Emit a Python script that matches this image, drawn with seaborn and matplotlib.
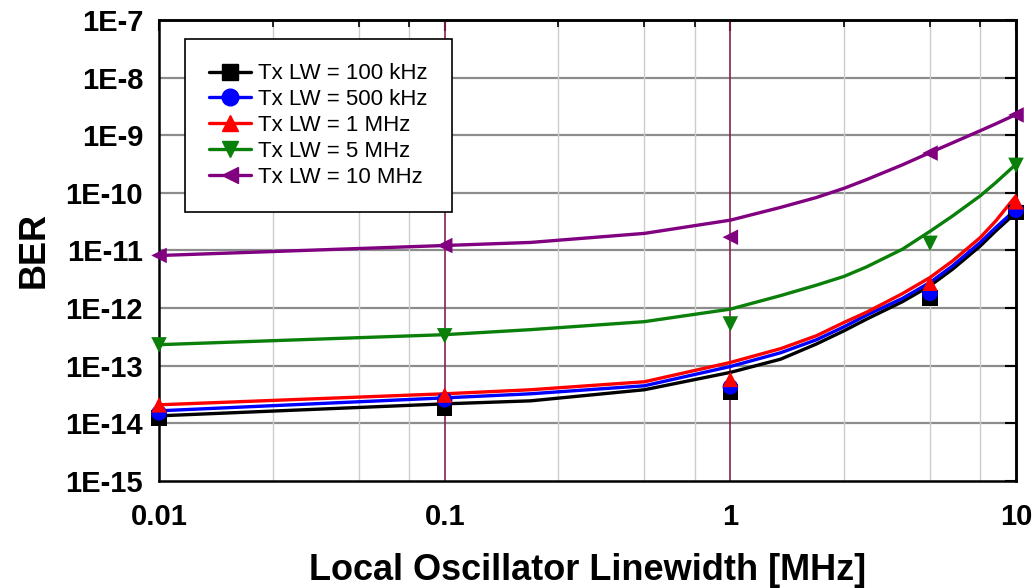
import numpy as np
import pandas as pd
import seaborn as sns
import matplotlib.pyplot as plt
from matplotlib.lines import Line2D
from matplotlib.ticker import FixedLocator, NullFormatter

series = ['Tx LW = 100 kHz', 'Tx LW = 500 kHz', 'Tx LW = 1 MHz', 'Tx LW = 5 MHz', 'Tx LW = 10 MHz']
colors = ['#000000', '#0000ff', '#ff0000', '#0a800a', '#800080']
markers = ['s', 'o', '^', 'v', '<']

# fitted curves
x_fit = [0.01, 0.1, 0.2, 0.5, 1, 1.5, 2, 2.5, 3, 4, 5, 6, 7.5, 8.5, 10]
fit_100k = [1.35e-14, 2.18e-14, 2.46e-14, 3.83e-14, 7.66e-14, 1.3e-13, 2.38e-13, 4.04e-13, 6.44e-13,
            1.29e-12, 2.44e-12, 4.74e-12, 1.2e-11, 2.19e-11, 4.56e-11]
fit_500k = [1.65e-14, 2.77e-14, 3.26e-14, 4.49e-14, 9.7e-14, 1.68e-13, 2.82e-13, 4.74e-13, 7.57e-13,
            1.47e-12, 2.79e-12, 5.42e-12, 1.38e-11, 2.51e-11, 5.2e-11]
fit_1m = [2.1e-14, 3.26e-14, 3.83e-14, 5.27e-14, 1.14e-13, 1.98e-13, 3.31e-13, 5.64e-13, 8.5e-13,
          1.78e-12, 3.4e-12, 6.6e-12, 1.68e-11, 3.27e-11, 8.9e-11]
fit_5m = [2.32e-13, 3.46e-13, 4.23e-13, 5.82e-13, 9.6e-13, 1.65e-12, 2.5e-12, 3.55e-12, 5.2e-12,
          1.05e-11, 2.15e-11, 3.98e-11, 8.9e-11, 1.51e-10, 3.14e-10]
fit_10m = [8.18e-12, 1.22e-11, 1.38e-11, 1.98e-11, 3.36e-11, 5.6e-11, 8.3e-11, 1.2e-10, 1.7e-10,
           3.06e-10, 5.0e-10, 7.4e-10, 1.2e-9, 1.58e-9, 2.29e-9]

# measured points
x_meas = [0.01, 0.1, 1, 5, 10]
meas_100k = [1.25e-14, 1.86e-14, 3.5e-14, 1.5e-12, 4.6e-11]
meas_500k = [1.52e-14, 2.56e-14, 4.3e-14, 1.8e-12, 5.0e-11]
meas_1m = [2.1e-14, 3.1e-14, 5.8e-14, 2.7e-12, 7.0e-11]
meas_5m = [2.3e-13, 3.3e-13, 5.3e-13, 1.33e-11, 3.0e-10]
meas_10m = [8.2e-12, 1.22e-11, 1.7e-11, 4.9e-10, 2.25e-9]

fits = [fit_100k, fit_500k, fit_1m, fit_5m, fit_10m]
meas = [meas_100k, meas_500k, meas_1m, meas_5m, meas_10m]

df_fit = pd.concat([pd.DataFrame({'x': x_fit, 'y': f, 'Tx': s}) for s, f in zip(series, fits)])
df_meas = pd.concat([pd.DataFrame({'x': x_meas, 'y': m, 'Tx': s}) for s, m in zip(series, meas)])

sns.set_style('white')
plt.rcParams['font.family'] = ['Liberation Sans', 'DejaVu Sans']
plt.rcParams.update({'text.color': 'black', 'axes.labelcolor': 'black',
                     'xtick.color': 'black', 'ytick.color': 'black'})

fig, ax = plt.subplots(figsize=(10.34, 5.88), dpi=100)
fig.subplots_adjust(left=0.1538, right=0.9826, top=0.966, bottom=0.182)

palette = dict(zip(series, colors))
ax.set_xscale('log')
ax.set_yscale('log')

# grid first
for d in [1e-14, 1e-13, 1e-12, 1e-11, 1e-10, 1e-9, 1e-8]:
    ax.axhline(d, color='#8c8c8c', lw=1.6, zorder=0)
for dec in [0.01, 0.1, 1]:
    for m in [2.5, 5, 7.5]:
        ax.axvline(dec * m, color='#cccccc', lw=1.0, zorder=0)
for xv in [0.1, 1]:
    ax.axvline(xv, color='#8b2050', lw=1.2, zorder=1)

sns.lineplot(data=df_fit, x='x', y='y', hue='Tx', palette=palette, sort=False,
             lw=2.4, legend=False, ax=ax, zorder=3)
sns.scatterplot(data=df_meas, x='x', y='y', hue='Tx', style='Tx', palette=palette,
                markers=dict(zip(series, markers)), s=125, edgecolor='none',
                legend=False, ax=ax, zorder=4, clip_on=False)

ax.set_xlim(0.01, 10)
ax.set_ylim(1e-15, 1e-7)

xmaj = [0.01, 0.1, 1, 10]
xmin = [d * m for d in [0.01, 0.1, 1] for m in [2.5, 5, 7.5]]
yt = [10.0 ** e for e in range(-15, -6)]

ax.xaxis.set_major_locator(FixedLocator(xmaj))
ax.set_xticklabels(['0.01', '0.1', '1', '10'])
ax.xaxis.set_minor_locator(FixedLocator(xmin))
ax.xaxis.set_minor_formatter(NullFormatter())
ax.yaxis.set_major_locator(FixedLocator(yt))
ax.set_yticklabels(['1E%d' % e for e in range(-15, -6)])
ax.yaxis.set_minor_locator(FixedLocator([]))

ax.tick_params(axis='both', which='major', labelsize=21, width=1.5, length=8, direction='out')
ax.tick_params(axis='x', which='minor', width=1.2, length=5, direction='out')
ax.tick_params(axis='x', which='major', pad=8)
for lbl in ax.get_xticklabels() + ax.get_yticklabels():
    lbl.set_fontweight('bold')

# inward ticks on the right and top
sec_y = ax.secondary_yaxis('right')
sec_y.yaxis.set_major_locator(FixedLocator(yt))
sec_y.yaxis.set_minor_locator(FixedLocator([]))
sec_y.tick_params(which='major', direction='in', length=8, width=1.5, labelright=False)
sec_x = ax.secondary_xaxis('top')
sec_x.xaxis.set_major_locator(FixedLocator(xmaj))
sec_x.xaxis.set_minor_locator(FixedLocator(xmin))
sec_x.tick_params(which='major', direction='in', length=8, width=1.5, labeltop=False)
sec_x.tick_params(which='minor', direction='in', length=5, width=1.2)
sec_x.xaxis.set_minor_formatter(NullFormatter())

for a in [ax, sec_x, sec_y]:
    for sp in a.spines.values():
        sp.set_color('black')
        sp.set_linewidth(1.8)

ax.set_xlabel('Local Oscillator Linewidth [MHz]', fontsize=26, fontweight='bold', labelpad=16)
ax.set_ylabel('BER', fontsize=26, fontweight='bold', labelpad=10)

handles = [Line2D([], [], color=c, marker=mk, lw=2.4, markersize=12) for c, mk in zip(colors, markers)]
leg = ax.legend(handles, series, loc='upper left', bbox_to_anchor=(0.030, 0.959),
                fontsize=16, frameon=True, fancybox=False, framealpha=1,
                edgecolor='black', borderpad=1.1, labelspacing=0.22,
                handlelength=1.9, handletextpad=0.3, borderaxespad=0)
leg.get_frame().set_linewidth(1.2)

plt.savefig('out.png', dpi=100, facecolor='white')
